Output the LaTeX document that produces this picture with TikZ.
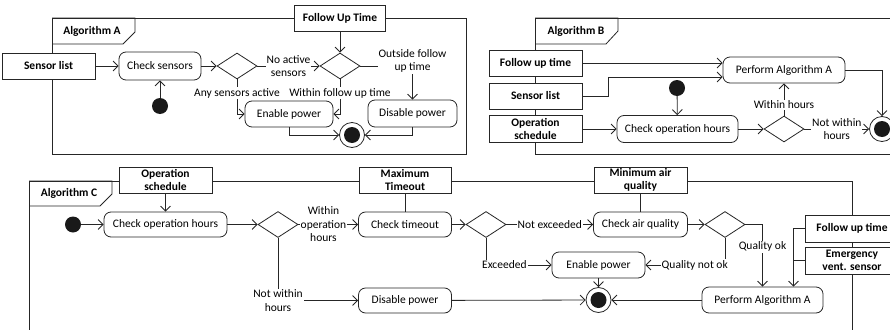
\documentclass[tikz,border=0pt]{standalone}
\usepackage{fontspec}
\setmainfont{Carlito}
\usetikzlibrary{shapes.geometric,arrows.meta,calc}
\begin{document}
\begin{tikzpicture}[x=1pt,y=-1pt,
  every node/.style={font=\fontsize{11.5}{13.5}\selectfont},
  ln/.style={line width=0.8pt, draw=black!85},
  arr/.style={ln, -{Straight Barb[length=5pt,width=10pt]}},
  actbox/.style={draw=black!85, line width=0.8pt, rounded corners=7pt, fill=white, inner sep=0pt},
  pinbox/.style={draw=black!85, line width=0.8pt, fill=white, inner sep=0pt, align=center, font=\fontsize{11.5}{13}\selectfont\bfseries},
  decbox/.style={diamond, draw=black!85, line width=0.8pt, minimum width=40pt, minimum height=26pt, inner sep=0pt, fill=white},
  startdot/.style={circle, fill=black!90, minimum size=16pt, inner sep=0pt},
  finaldot/.style={circle, draw=black!85, line width=0.8pt, minimum size=25pt, inner sep=0pt, fill=white, path picture={\fill[black!90] (path picture bounding box.center) circle (8pt);}},
  lbl/.style={fill=white, inner sep=1pt, align=center},
  frm/.style={draw=black!85, line width=0.8pt},
  tabtext/.style={font=\fontsize{11.5}{13.5}\selectfont\bfseries},
]
\useasboundingbox (0,0) rectangle (890,329);
\clip (0,0) rectangle (890,329);

% ---------- frames ----------
\draw[frm] (52,18) rectangle (466,154);
\draw[frm] (52,18) -- (135,18) -- (135,32) -- (123,44) -- (52,44);
\node[tabtext] (tabA) at (92,31) {Algorithm A};

\draw[frm] (900,18) -- (535,18) -- (535,154) -- (900,154);
\draw[frm] (535,18) -- (618,18) -- (618,31) -- (606,44) -- (535,44);
\node[tabtext] (tabB) at (576,31) {Algorithm B};

\draw[frm] (29,340) -- (29,181) -- (852,181) -- (852,340);
\draw[frm] (29,181) -- (112,181) -- (112,194) -- (100,206) -- (29,206);
\node[tabtext] (tabC) at (69,193) {Algorithm C};

% ---------- Algorithm A ----------
\node[pinbox, minimum width=93pt, minimum height=26pt] (sensA) at (48.5,66) {Sensor list};
\node[pinbox, minimum width=91pt, minimum height=26pt] (follA) at (340,18) {Follow Up Time};
\node[actbox, minimum width=82pt, minimum height=28pt] (chkS) at (160,66) {Check sensors};
\node[startdot] (stA) at (160,106) {};
\node[decbox] (dA1) at (237,66) {};
\node[decbox] (dA2) at (340,66) {};
\node[actbox, minimum width=88pt, minimum height=26pt] (enA) at (289,114) {Enable power};
\node[actbox, minimum width=89pt, minimum height=27pt] (disA) at (412.5,113.5) {Disable power};
\node[finaldot] (finA) at (352,135) {};

\draw[arr] (sensA) -- (chkS);
\draw[arr] (stA) -- (chkS);
\draw[arr] (chkS) -- (dA1);
\draw[arr] (dA1.east) -- node[lbl]{No active\\sensors} (dA2.west);
\draw[arr] (follA) -- (dA2);
\draw[arr] (dA1.south) |- node[lbl,pos=0.2]{Any sensors active} (enA.west);
\draw[arr] (dA2.south) |- node[lbl,pos=0.2]{Within follow up time} (enA.east);
\draw[arr] (dA2.east) -| node[lbl,pos=0.5,yshift=5pt]{Outside follow\\up time} (disA.north);
\draw[arr] (enA.south) |- (finA.west);
\draw[arr] (disA.south) |- (finA.east);

% ---------- Algorithm B ----------
\node[pinbox, minimum width=93pt, minimum height=26pt] (follB) at (535.5,63) {Follow up time};
\node[pinbox, minimum width=93pt, minimum height=26pt] (sensB) at (535.5,96) {Sensor list};
\node[pinbox, minimum width=93pt, minimum height=27pt] (opB) at (535.5,129) {Operation\\schedule};
\node[startdot] (stB) at (677,88) {};
\node[actbox, minimum width=121pt, minimum height=27pt] (chkB) at (677.5,129) {Check operation hours};
\node[actbox, minimum width=122pt, minimum height=26pt] (perfB) at (784,70) {Perform Algorithm A};
\node[decbox] (dB) at (784,129) {};
\node[finaldot] (finB) at (882,129) {};

\draw[arr] (follB.east) -- (follB.east -| perfB.west);
\draw[arr] (sensB.east) -- ++(26,0) |- ($(perfB.west)+(0,7)$);
\draw[arr] (opB) -- (chkB);
\draw[arr] (stB) -- (chkB);
\draw[arr] (chkB) -- (dB);
\draw[arr] (dB.north) -- node[lbl,pos=0.33]{Within hours} (perfB.south);
\draw[arr] (dB.east) -- node[lbl]{Not within\\hours} (finB.west);
\draw[arr] (perfB.east) -| (finB.north);

% ---------- Algorithm C ----------
\node[pinbox, minimum width=93pt, minimum height=26pt] (opC) at (165.5,180) {Operation\\schedule};
\node[pinbox, minimum width=92pt, minimum height=26pt] (maxC) at (405,180) {Maximum\\Timeout};
\node[pinbox, minimum width=93pt, minimum height=26pt] (minC) at (640.5,180) {Minimum air\\quality};
\node[pinbox, minimum width=93pt, minimum height=27pt] (follC) at (852,228.5) {Follow up time};
\node[pinbox, minimum width=93pt, minimum height=27pt] (emC) at (852,260.5) {Emergency\\vent. sensor};

\node[startdot] (stC) at (73,224.5) {};
\node[actbox, minimum width=123pt, minimum height=25pt] (chkC) at (165.5,224.5) {Check operation hours};
\node[decbox] (dC1) at (278,224.5) {};
\node[actbox, minimum width=93pt, minimum height=25pt] (toC) at (405,224.5) {Check timeout};
\node[decbox] (dC2) at (486,224.5) {};
\node[actbox, minimum width=94pt, minimum height=25pt] (aqC) at (640.5,224.5) {Check air quality};
\node[decbox] (dC3) at (725,224.5) {};
\node[actbox, minimum width=93pt, minimum height=26pt] (enC) at (598.5,265) {Enable power};
\node[actbox, minimum width=121pt, minimum height=26pt] (perfC) at (762.5,300) {Perform Algorithm A};
\node[finaldot] (finC) at (598.5,300) {};
\node[actbox, minimum width=93pt, minimum height=25pt] (disC) at (405,300.5) {Disable power};

\draw[arr] (stC) -- (chkC);
\draw[arr] (opC) -- (chkC);
\draw[ln] (maxC) -- (toC);
\draw[ln] (minC) -- (aqC);
\draw[arr] (chkC) -- (dC1);
\draw[arr] (dC1.east) -- node[lbl,pos=0.42]{Within\\operation\\hours} (toC.west);
\draw[arr] (dC1.south) |- node[lbl,pos=0.5]{Not within\\hours} (disC.west);
\draw[arr] (toC) -- (dC2);
\draw[arr] (dC2.east) -- node[lbl]{Not exceeded} (aqC.west);
\draw[arr] (dC2.south) |- node[lbl,pos=0.64]{Exceeded} (enC.west);
\draw[arr] (aqC) -- (dC3);
\draw[arr] (dC3.south) |- node[lbl,pos=0.69]{Quality not ok} (enC.east);
\draw[arr] (dC3.east) -| node[lbl,pos=0.68]{Quality ok} (perfC.north);
\draw[arr] (follC.west) -| ([xshift=31pt]perfC.north);
\draw[ln] (emC.west) -- ++(-12.5,0);
\draw[arr] (enC) -- (finC);
\draw[arr] (perfC) -- (finC);
\draw[arr] (disC) -- (finC);
\end{tikzpicture}
\end{document}
